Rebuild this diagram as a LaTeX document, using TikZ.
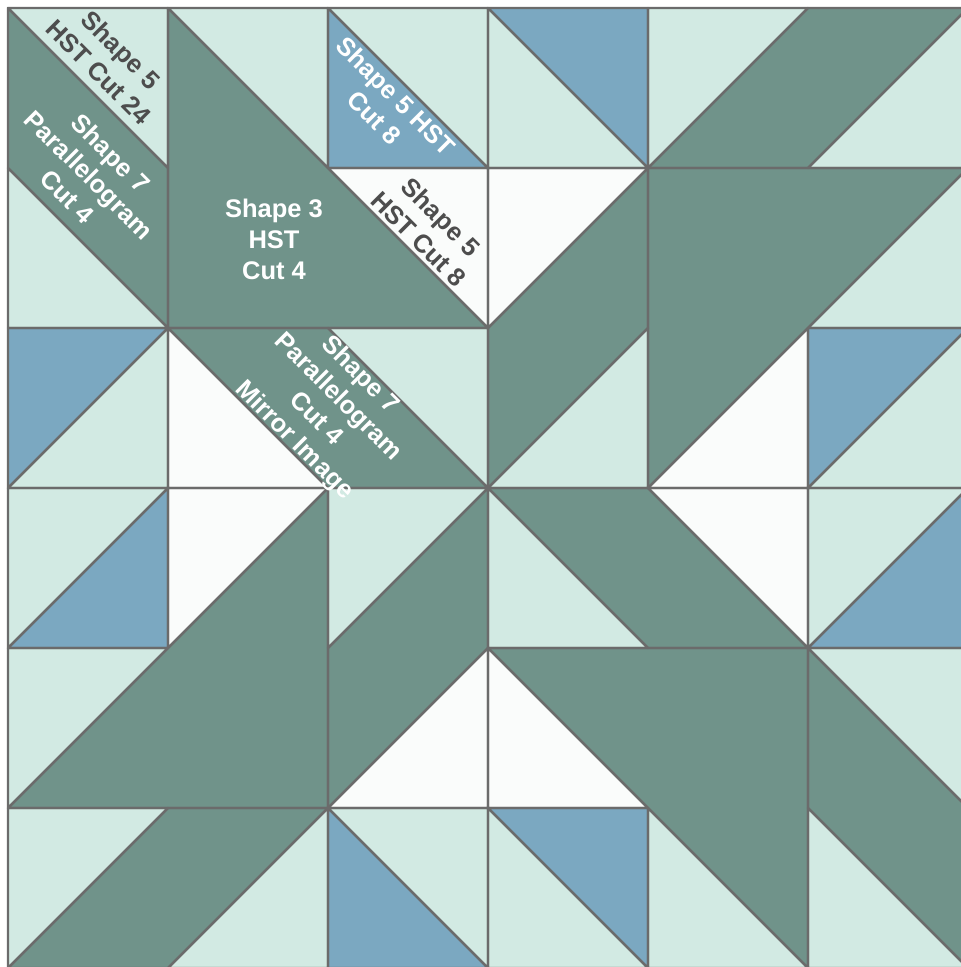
\documentclass[tikz,border=0pt]{standalone}
\usepackage{fontspec}
\setmainfont{Liberation Sans}
\definecolor{dk}{HTML}{70938A}
\definecolor{mint}{HTML}{D2EAE3}
\definecolor{blu}{HTML}{7BA8C1}
\definecolor{wht}{HTML}{FAFCFB}
\definecolor{edge}{HTML}{6B6B6B}
\definecolor{txtdark}{HTML}{4D4D4D}
\newif\ifqdraw
\newcommand\qpatch[2]{\ifqdraw\draw[edgeline] #2 -- cycle;\else\fill[#1] #2 -- cycle;\fi}
\newcommand\quadrantpatches{%
  \qpatch{dk}{(8,8) -- (168,168) -- (168,328) -- (8,168)}%
  \qpatch{dk}{(168,8) -- (168,328) -- (488,328)}%
  \qpatch{dk}{(168,328) -- (328,328) -- (488,488) -- (328,488)}%
  \qpatch{mint}{(8,8) -- (168,8) -- (168,168)}%
  \qpatch{mint}{(8,168) -- (168,328) -- (8,328)}%
  \qpatch{mint}{(168,8) -- (328,8) -- (328,168)}%
  \qpatch{mint}{(328,8) -- (488,8) -- (488,168)}%
  \qpatch{mint}{(168,328) -- (168,488) -- (8,488)}%
  \qpatch{mint}{(328,328) -- (488,328) -- (488,488)}%
  \qpatch{blu}{(328,8) -- (328,168) -- (488,168)}%
  \qpatch{blu}{(8,328) -- (168,328) -- (8,488)}%
  \qpatch{wht}{(328,168) -- (488,168) -- (488,328)}%
  \qpatch{wht}{(168,328) -- (168,488) -- (328,488)}%
}
\begin{document}
\begin{tikzpicture}[x=1pt,y=-1pt,
  edgeline/.style={draw=edge,line width=2.3pt,line join=round},
  lbl/.style={font=\fontsize{25.5}{31}\selectfont\bfseries,align=center,inner sep=0pt}]
\useasboundingbox (0,0) rectangle (961,967);
\fill[white] (0,0) rectangle (961,967);
\clip (0,0) rectangle (961,967);
\qdrawfalse
\foreach \a in {0,90,180,270}{%
  \begin{scope}[rotate around={\a:(488,488)}]\quadrantpatches\end{scope}}
\qdrawtrue
\foreach \a in {0,90,180,270}{%
  \begin{scope}[rotate around={\a:(488,488)}]\quadrantpatches\end{scope}}
\node[lbl,text=txtdark,rotate=-45] (l1) at (110,61) {Shape 5\\HST Cut 24};
\node[lbl,text=white,rotate=-45] (l2) at (89,175) {Shape 7\\Parallelogram\\Cut 4};
\node[lbl,text=white] (l3) at (274,239) {Shape 3\\HST\\Cut 4};
\node[lbl,text=white,rotate=-45] (l4) at (385,107) {Shape 5 HST\\Cut 8};
\node[lbl,text=txtdark,rotate=-45] (l5) at (430,228) {Shape 5\\HST Cut 8};
\node[lbl,text=white,rotate=-45] (l6) at (327,408) {Shape 7\\Parallelogram\\Cut 4\\Mirror Image};
\end{tikzpicture}
\end{document}
